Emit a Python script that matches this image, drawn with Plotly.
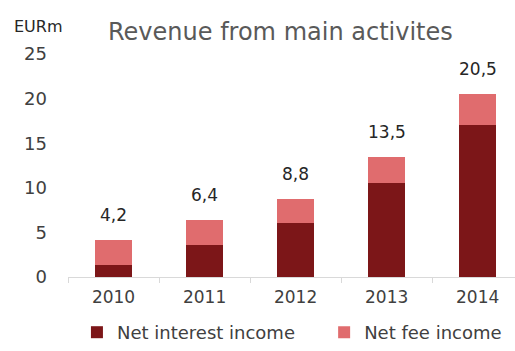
import plotly.graph_objects as go

years = ["2010", "2011", "2012", "2013", "2014"]
net_interest_income = [1.3, 3.6, 6.1, 10.5, 17.0]
net_fee_income = [2.9, 2.8, 2.7, 3.0, 3.5]
y_ticks = [0, 5, 10, 15, 20, 25]

totals = [round(a + b, 1) for a, b in zip(net_interest_income, net_fee_income)]

DARK = "#7c1618"
LIGHT = "#e06c6e"
FONT = "DejaVu Sans"

fig = go.Figure()
fig.add_trace(go.Bar(x=years, y=net_interest_income, name="Net interest income",
                     marker=dict(color=DARK, line=dict(width=0)), width=0.4,
                     legend="legend"))
fig.add_trace(go.Bar(x=years, y=net_fee_income, name="Net fee income",
                     marker=dict(color=LIGHT, line=dict(width=0)), width=0.4,
                     legend="legend2"))

# total value above each stacked bar (category index positions)
for i, tot in enumerate(totals):
    fig.add_annotation(x=i, y=tot, text=f"{tot:.1f}".replace(".", ","),
                       showarrow=False, yanchor="bottom", yshift=13,
                       font=dict(family=FONT, size=17, color="#262626"))

fig.add_annotation(xref="paper", yref="paper", x=0.475, y=1.0, yanchor="bottom",
                   yshift=6, text="Revenue from main activites", showarrow=False,
                   font=dict(family=FONT, size=24, color="#595959"))
fig.add_annotation(xref="paper", yref="paper", x=-0.125, y=1.0, yanchor="bottom",
                   yshift=16, xanchor="left", text="EURm", showarrow=False,
                   font=dict(family=FONT, size=16, color="#262626"))

legend_style = dict(orientation="h", y=-0.25, yanchor="middle", xanchor="left",
                    font=dict(family=FONT, size=18, color="#404040"),
                    bgcolor="rgba(0,0,0,0)")

fig.update_layout(
    barmode="stack",
    width=515, height=351,
    margin=dict(l=68, r=0, t=54, b=72),
    paper_bgcolor="white", plot_bgcolor="white",
    font=dict(family=FONT, size=17, color="#404040"),
    showlegend=True,
    legend=dict(x=0.02, **legend_style),
    legend2=dict(x=0.573, **legend_style),
    xaxis=dict(type="category", range=[-0.5, 4.41], showline=True,
               linecolor="#d9d9d9", linewidth=1,
               ticks="outside", tickson="boundaries", ticklen=5, tickcolor="#d9d9d9",
               showgrid=False, ticklabelstandoff=5,
               tickfont=dict(family=FONT, size=17, color="#404040")),
    yaxis=dict(range=[0, 25], tickvals=y_ticks, showgrid=False, zeroline=False,
               showline=False, ticklabelstandoff=20,
               tickfont=dict(family=FONT, size=18, color="#404040")),
)

fig.write_html("out.html")
